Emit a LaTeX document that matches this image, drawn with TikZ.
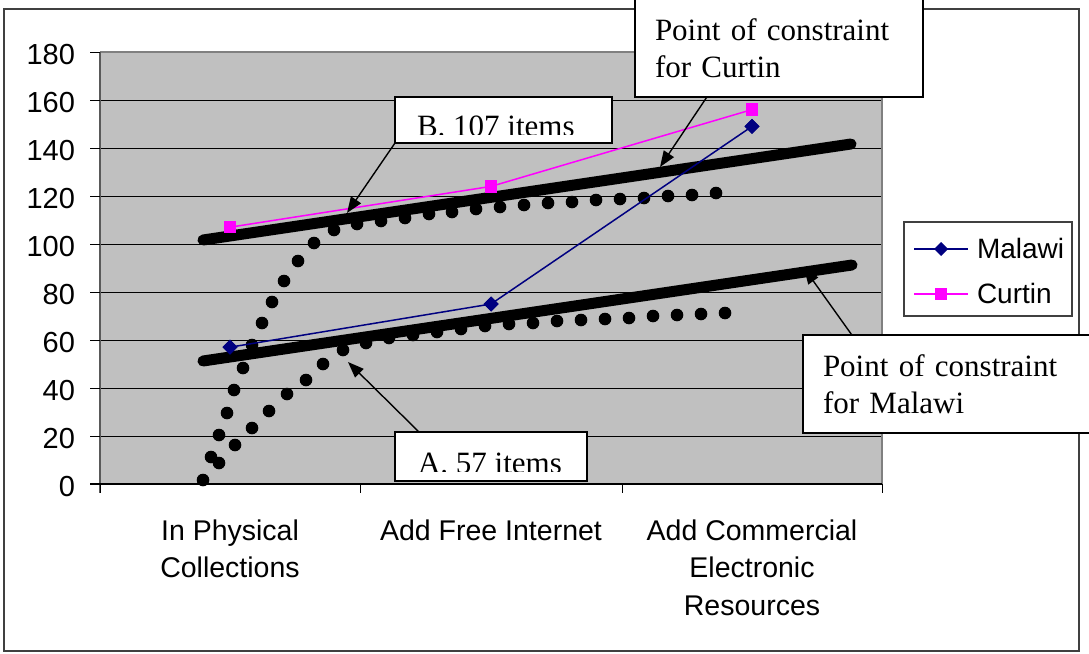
\documentclass[tikz,border=0pt]{standalone}
\usepackage{fontspec}
\setmainfont{Liberation Serif}
\newfontfamily\arialfont{Liberation Sans}
\usetikzlibrary{arrows.meta,shapes.geometric}

\definecolor{plotgray}{RGB}{192,192,192}
\definecolor{bordergray}{RGB}{128,128,128}
\definecolor{framegray}{RGB}{64,64,64}
\definecolor{malawinavy}{RGB}{0,0,128}
\definecolor{curtinpink}{RGB}{255,0,255}

\newcommand{\axisfont}{\arialfont\fontsize{29}{37.5}\selectfont}
\newcommand{\legendfont}{\arialfont\fontsize{28}{37.5}\selectfont}
\newcommand{\catfont}{\arialfont\fontsize{28.5}{37.5}\selectfont}
\newcommand{\calloutfont}{\fontsize{31}{37.5}\selectfont}

\begin{document}
\begin{tikzpicture}[x=1pt,y=-1pt,
  every node/.style={inner sep=0pt, outer sep=0pt},
  axislabel/.style={font=\axisfont},
  legendlabel/.style={font=\legendfont, anchor=west},
  catlabel/.style={font=\catfont, align=center, anchor=base},
  gridline/.style={line width=1pt, black},
  trend/.style={line width=11pt, line cap=round, black},
  dotmark/.style={fill=black},
  malawiline/.style={line width=1.5pt, malawinavy},
  curtinline/.style={line width=1.5pt, curtinpink},
  malawimark/.style={diamond, fill=malawinavy, minimum size=15pt},
  curtinmark/.style={rectangle, fill=curtinpink, minimum size=12.5pt},
  callout/.style={draw=black, line width=1.5pt, fill=white, font=\calloutfont,
                  align=left, text width=248pt, inner xsep=20pt, inner ysep=19pt},
  clipbox/.style={draw=black, line width=1.5pt, fill=white, anchor=north west},
  cliptext/.style={anchor=base west, font=\calloutfont, draw=none, fill=none,
                   minimum width=0pt, minimum height=0pt, path picture={}},
  pointer/.style={line width=1.4pt, black, -{Triangle[length=16pt,width=12pt]}}
]
\useasboundingbox (0,0) rectangle (1089,653);
\clip (0,0) rectangle (1089,653);

% outer chart frame
\draw[framegray, line width=1.5pt] (4,9) rectangle (1079,651);

% plot area
\fill[plotgray] (100,52) rectangle (882,484);
\foreach \v in {20,40,...,160}
  \draw[gridline] (100,{484-2.4*\v}) -- (882,{484-2.4*\v});
\draw[bordergray, line width=1.5pt] (100,52) -- (882,52) -- (882,484);
\draw[black!65, line width=1.5pt] (100,52) -- (100,493);
\draw[black, line width=1.2pt] (90,484) -- (882,484);

% y axis ticks and labels
\foreach \v in {0,20,...,180} {
  \draw[black, line width=1pt] (90,{484-2.4*\v}) -- (100,{484-2.4*\v});
  \node[axislabel, anchor=east] (ylab\v) at (75,{487-2.4*\v}) {\v};
}

% x axis ticks and category labels (base = baseline of the last line)
\foreach \x in {100,360,622,882}
  \draw[black, line width=1pt] (\x,484) -- (\x,493);
\node[catlabel] (cat1) at (230,577.5) {In Physical\\Collections};
\node[catlabel] (cat2) at (491,540) {Add Free Internet};
\node[catlabel] (cat3) at (752,615) {Add Commercial\\Electronic\\Resources};

% constraint lines
\draw[trend] (203,240) -- (851,144);
\draw[trend] (203,361) -- (852,265);

% dotted growth curves
\foreach \p in {(203,480),
  (211,457),(219,435),(227,413),(234,390),(243,368),(252,345),(262,323),
  (272,302),(284,281),(298,261),(314,243),(334,230),(357,224),(381,221),
  (405,218),(429,214),(452,212),(476,209),(500,207),(524,205),(548,203),
  (572,202),(596,200),(620,199),(644,198),(668,196),(692,195),(716,193),
  (219,463),(235,445),(252,428),(269,411),(287,394),(306,380),(323,364),
  (343,350),(366,343),(389,338),(413,335),(437,332),(461,329),(485,326),
  (509,324),(533,323),(557,321),(581,320),(605,319),(629,318),(653,316),
  (677,315),(701,314),(725,313)}
  \fill[dotmark] \p circle (6.3pt);

% data series
\node[malawimark] (m1) at (230,347.2) {};
\node[malawimark] (m2) at (491,304) {};
\node[malawimark] (m3) at (752,126.4) {};
\node[curtinmark] (c1) at (230,227.2) {};
\node[curtinmark] (c2) at (491,186.4) {};
\node[curtinmark] (c3) at (752,109.6) {};
\draw[malawiline] (m1.center) -- (m2.center) -- (m3.center);
\draw[curtinline] (c1.center) -- (c2.center) -- (c3.center);
\node[malawimark] at (m1) {};
\node[malawimark] at (m2) {};
\node[malawimark] at (m3) {};
\node[curtinmark] at (c1) {};
\node[curtinmark] at (c2) {};
\node[curtinmark] at (c3) {};

% legend
\node[draw=framegray, line width=1.2pt, fill=white, anchor=north west,
      minimum width=168pt, minimum height=94pt] (legend) at (904,222) {};
\coordinate (lm1) at (914,249);
\coordinate (lm2) at (968,249);
\coordinate (lc1) at (914,294);
\coordinate (lc2) at (968,294);
\draw[malawiline] (lm1) -- (lm2);
\draw[curtinline] (lc1) -- (lc2);
\node[malawimark, minimum size=14pt] (lmk) at (941,249) {};
\node[curtinmark, minimum size=12pt] (lck) at (941,294) {};
\node[legendlabel] (lmt) at (977,248) {Malawi};
\node[legendlabel] (lct) at (977,293) {Curtin};

% callouts
\coordinate (tipB) at (347,213);
\coordinate (tipC) at (660,167);
\coordinate (tipA) at (348,362);
\coordinate (tipM) at (804,268);

\node[clipbox, minimum width=217pt, minimum height=46pt,
  path picture={
    \clip (path picture bounding box.north west) rectangle
          ([yshift=8.5pt]path picture bounding box.south east);
    \node[cliptext]
      at ([xshift=22pt,yshift=7pt]path picture bounding box.south west) {B. 107 items};
  }] (calloutB) at (395,97) {};

\node[clipbox, minimum width=192pt, minimum height=49pt,
  path picture={
    \clip (path picture bounding box.north west) rectangle
          ([yshift=10pt]path picture bounding box.south east);
    \node[cliptext]
      at ([xshift=23pt,yshift=8pt]path picture bounding box.south west) {A. 57 items};
  }] (calloutA) at (395,432) {};

\node[callout, anchor=base west] (calloutC) at (635,40) {Point of constraint\\for Curtin};
\node[callout, anchor=base west] (calloutM) at (803,376) {Point of constraint\\for Malawi};

\draw[pointer] (calloutB.south west) -- (tipB);
\draw[pointer] ([xshift=72pt]calloutC.south west) -- (tipC);
\draw[pointer] ([xshift=24pt]calloutA.north west) -- (tipA);
\draw[pointer] ([xshift=49pt]calloutM.north west) -- (tipM);
\end{tikzpicture}
\end{document}
